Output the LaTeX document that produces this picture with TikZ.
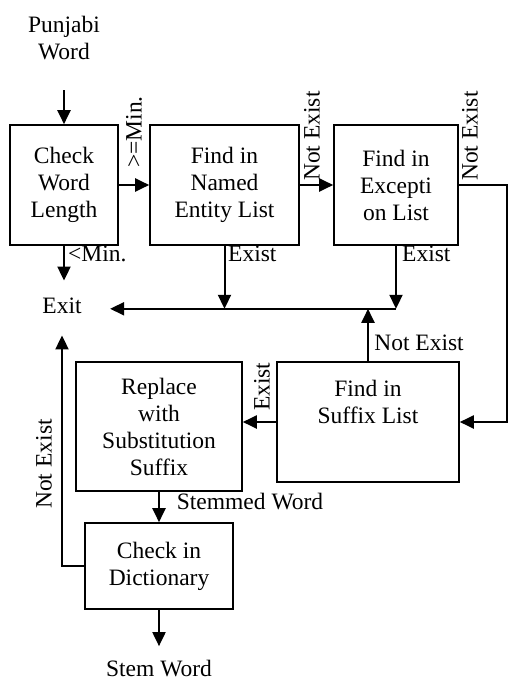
\documentclass[tikz,border=0pt]{standalone}
\usepackage{fontspec}
\setmainfont{Liberation Serif}
\usetikzlibrary{arrows.meta,calc}
\begin{document}
\begin{tikzpicture}[x=1pt,y=-1pt,font=\fontsize{23.5}{27}\selectfont]
            \tikzstyle{stage}=[draw,line width=1.6pt,align=center,inner sep=2pt]
            \tikzset{flow/.style = {line width=2pt,-{Triangle[length=14pt,width=13pt]}}}
            \tikzset{note/.style = {inner sep=2pt}}
            \useasboundingbox (0,0) rectangle (507,684);
            \node[align=center] (in) at (64,38) {Punjabi\\Word};
            \node[stage,minimum width=108pt,minimum height=120pt] (len) at (64,185) {Check\\Word\\Length};
            \node[stage,minimum width=149pt,minimum height=120pt] (named) at (224.5,185) {Find in\\Named\\Entity List};
            \node[stage,minimum width=124pt,minimum height=120pt] (except) at (396,185) {Find in\\Excepti\\on List};
            \node (exit) at (62,306) {Exit};
            \node[stage,minimum width=182pt,minimum height=120pt] (suffix) at (368,422) {};
            \node[align=center] (suffixtext) at (368,402) {Find in\\Suffix List};
            \node[stage,minimum width=166pt,minimum height=129pt] (replace) at (159,426.5) {Replace\\with\\Substitution\\Suffix};
            \node[stage,minimum width=148pt,minimum height=86pt] (dict) at (159,566) {Check in\\Dictionary};
            \node (out) at (159,669) {Stem Word};
            \coordinate (merge) at ($(except.south)+(0,63)$);
            \draw[flow,shorten <=27pt] (in.south) -- (len.north);
            \draw[flow] (len.east) -- (named.west);
            \draw[flow,shorten >=14pt] (len.south) -- (len.south |- exit.north);
            \draw[flow] (named.east) -- (except.west);
            \draw[flow] (named.south) -- (named.south |- merge);
            \draw[flow] (except.south) -- (merge);
            \draw[flow,shorten >=25pt] (merge) -- (merge -| exit.east);
            \draw[flow] (except.east) -- ++(48,0) |- (suffix.east);
            \draw[flow] (suffix.north) -- (suffix.north |- merge);
            \draw[flow] (suffix.west) -- (replace.east |- suffix.west);
            \draw[flow] (replace.south) -- (dict.north);
            \draw[flow,shorten >=18pt] (dict.west) -- (dict.west -| exit.south) -- (exit.south);
            \draw[flow,shorten >=11pt] (dict.south) -- (out.north);
            \node[note,rotate=90,anchor=west] (atleast) at (134,170) {>=Min.};
            \node[note,anchor=north west] (below) at (66,244) {<Min.};
            \node[note,anchor=north west] (found1) at (226,244) {Exist};
            \node[note,anchor=north west] (found2) at (400,244) {Exist};
            \node[note,rotate=90,anchor=west] (missing1) at (312,183) {Not Exist};
            \node[note,rotate=90,anchor=west] (missing2) at (470,183) {Not Exist};
            \node[note] (missing3) at (419,343) {Not Exist};
            \node[note,rotate=90,anchor=west] (found3) at (262,413) {Exist};
            \node[note,rotate=90] (missing4) at (44,464) {Not Exist};
            \node[note] (stemmed) at (250,502) {Stemmed Word};
\end{tikzpicture}
\end{document}
